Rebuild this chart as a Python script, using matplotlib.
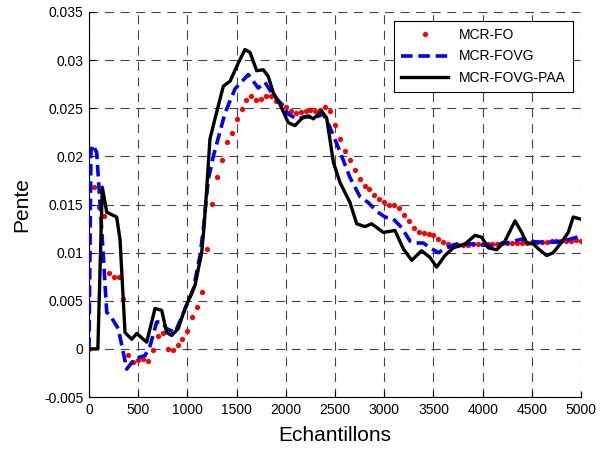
import numpy as np
import matplotlib
matplotlib.use('Agg')
import matplotlib.pyplot as plt

plt.rcParams['font.family'] = ['Liberation Sans', 'DejaVu Sans']

# MCR-FO : one point every 50 samples
fo_step = 50
fo_y = [0.0, 0.0168, 0.0147, 0.0138, 0.0079, 0.0075, 0.0075, 0.0052, -0.0006, -0.0014,
        -0.0012, -0.0011, -0.0013, -0.0001, 0.0013, 0.0017, 0.0000, -0.0001, 0.0004, 0.0010,
        0.0019, 0.0033, 0.0043, 0.0059, 0.0104, 0.0151, 0.0179, 0.0196, 0.0215, 0.0224,
        0.0239, 0.0249, 0.0259, 0.0263, 0.0259, 0.0260, 0.0263, 0.0263, 0.0258, 0.0254,
        0.0251, 0.0247, 0.0245, 0.0246, 0.0247, 0.0248, 0.0247, 0.0248, 0.0251, 0.0247,
        0.0233, 0.0218, 0.0206, 0.0196, 0.0186, 0.0176, 0.0169, 0.0166, 0.0160, 0.0156,
        0.0153, 0.0150, 0.0149, 0.0146, 0.0139, 0.0133, 0.0126, 0.0121, 0.0120, 0.0119,
        0.0118, 0.0114, 0.0111, 0.0109, 0.0108, 0.0108, 0.0108, 0.0108, 0.0109, 0.0109,
        0.0109, 0.0109, 0.0109, 0.0109, 0.0110, 0.0110, 0.0110, 0.0110, 0.0110, 0.0110,
        0.0111, 0.0111, 0.0111, 0.0111, 0.0112, 0.0112, 0.0112, 0.0112, 0.0112, 0.0113,
        0.0112]

# MCR-FOVG
fovg_x = [0, 20, 40, 78, 129, 180, 213, 298, 383, 467, 569, 620, 688, 739, 789, 874,
          975, 1060, 1128, 1161, 1212, 1263, 1382, 1483, 1619, 1720, 1788, 1856, 1941,
          2025, 2110, 2212, 2313, 2381, 2449, 2550, 2652, 2754, 2838, 2923, 3007, 3092,
          3177, 3262, 3312, 3397, 3482, 3550, 3634, 3736, 3906, 4075, 4244, 4397, 4549,
          4752, 4888, 4990]
fovg_y = [0.0, 0.0205, 0.0212, 0.0204, 0.0124, 0.0038, 0.0035, 0.0021, -0.0021, -0.0010,
          -0.0007, 0.0003, 0.0028, 0.0028, 0.0021, 0.0017, 0.0041, 0.0062, 0.0097, 0.0124,
          0.0176, 0.0200, 0.0245, 0.0270, 0.0285, 0.0271, 0.0277, 0.0266, 0.0256, 0.0244,
          0.0239, 0.0241, 0.0241, 0.0244, 0.0230, 0.0205, 0.0178, 0.0158, 0.0152, 0.0143,
          0.0137, 0.0135, 0.0126, 0.0112, 0.0110, 0.0110, 0.0104, 0.0100, 0.0105, 0.0109,
          0.0109, 0.0107, 0.0110, 0.0114, 0.0111, 0.0111, 0.0114, 0.0117]

# MCR-FOVG-PAA
paa_x = [0, 90, 135, 180, 281, 315, 366, 434, 485, 586, 671, 739, 789, 840, 907, 975,
         1077, 1145, 1170, 1196, 1229, 1280, 1365, 1433, 1517, 1585, 1636, 1704, 1771,
         1822, 1873, 1941, 2025, 2093, 2178, 2229, 2279, 2364, 2415, 2483, 2550, 2652,
         2720, 2804, 2872, 2991, 3109, 3194, 3279, 3380, 3465, 3533, 3617, 3702, 3821,
         3923, 3990, 4058, 4143, 4227, 4329, 4397, 4447, 4515, 4566, 4651, 4718, 4803,
         4870, 4921, 4989]
paa_y = [0.0, 0.0, 0.0168, 0.0142, 0.0137, 0.0114, 0.0017, 0.0010, 0.0016, 0.0007,
         0.0042, 0.0040, 0.0017, 0.0014, 0.0021, 0.0042, 0.0066, 0.0100, 0.0128, 0.0166,
         0.0218, 0.0239, 0.0273, 0.0278, 0.0297, 0.0311, 0.0308, 0.0289, 0.0290, 0.0283,
         0.0266, 0.0254, 0.0235, 0.0232, 0.0241, 0.0242, 0.0239, 0.0247, 0.0240, 0.0194,
         0.0173, 0.0152, 0.0130, 0.0127, 0.0130, 0.0121, 0.0123, 0.0104, 0.0092, 0.0102,
         0.0095, 0.0085, 0.0097, 0.0105, 0.0109, 0.0118, 0.0116, 0.0105, 0.0103, 0.0112,
         0.0133, 0.0121, 0.0110, 0.0109, 0.0104, 0.0097, 0.0100, 0.0111, 0.0121, 0.0137,
         0.0135]

fo_x = np.arange(len(fo_y)) * fo_step

fig = plt.figure(figsize=(6.03, 4.51), dpi=100)
ax = fig.add_axes([0.1476, 0.1197, 0.816, 0.8537])

ax.plot(fo_x, fo_y, linestyle='none', marker='o', ms=3.8, color='#ff0000',
        markeredgewidth=0, label='MCR-FO', zorder=3)
ax.plot(fovg_x, fovg_y, color='#0000ff', lw=2.6, linestyle=(0, (3.2, 1.6)),
        label='MCR-FOVG', zorder=4)
ax.plot(paa_x, paa_y, color='black', lw=2.4, label='MCR-FOVG-PAA', zorder=5)

ax.set_xlim(0, 5000)
ax.set_ylim(-0.005, 0.035)
ax.set_xticks(np.arange(0, 5001, 500))
ax.set_yticks(np.arange(-0.005, 0.0351, 0.005))
ax.set_yticklabels(['-0.005', '0', '0.005', '0.01', '0.015', '0.02', '0.025', '0.03', '0.035'])

ax.grid(True, color='#444444', linestyle=(0, (8, 6)), linewidth=0.8)
ax.spines['top'].set_visible(False)
ax.spines['right'].set_visible(False)
ax.tick_params(direction='in', length=4, labelsize=10, pad=4)

ax.set_xlabel('Echantillons', fontsize=15, labelpad=7)
ax.set_ylabel('Pente', fontsize=15, labelpad=9)

leg = ax.legend(loc='upper right', bbox_to_anchor=(0.998, 0.995), fontsize=10,
                numpoints=1, handlelength=3.4, fancybox=False, framealpha=1,
                edgecolor='black', borderpad=0.5, labelspacing=0.55)
leg.get_frame().set_linewidth(0.8)

fig.savefig('out.png', dpi=100)
